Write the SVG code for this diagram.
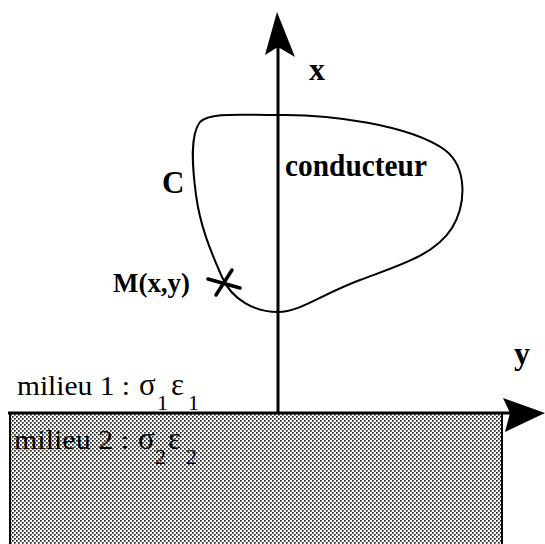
<svg xmlns="http://www.w3.org/2000/svg" width="545" height="544" viewBox="0 0 545 544">
<style>
.lbl{font-family:"Liberation Serif","Times New Roman",serif;font-weight:bold;fill:#000}
.reg{font-family:"Liberation Serif","Times New Roman",serif;fill:#000}
.ax{stroke:#000;stroke-width:3;fill:none}
</style>
<defs>
<pattern id="dots" width="4" height="4" patternUnits="userSpaceOnUse">
<rect width="4" height="4" fill="#fff"/>
<rect x="0" y="0" width="1.7" height="1.7" fill="#222"/>
<rect x="2" y="2" width="1.7" height="1.7" fill="#222"/>
</pattern>
</defs>
<g id="milieu2">
<rect x="10" y="413" width="492" height="135" fill="url(#dots)" stroke="#000" stroke-width="2"/>
<text class="reg" font-size="28" y="449"><tspan x="14" textLength="115" lengthAdjust="spacingAndGlyphs">milieu 2 :</tspan><tspan x="138" font-size="31">σ</tspan><tspan x="155" y="464" font-size="22">2</tspan><tspan x="168" y="449" font-size="31">ε</tspan><tspan x="186" y="464" font-size="22">2</tspan></text>
</g>
<g id="milieu1">
<text class="reg" font-size="28" y="395"><tspan x="17" textLength="113" lengthAdjust="spacingAndGlyphs">milieu 1 :</tspan><tspan x="139" font-size="31">σ</tspan><tspan x="157" y="410" font-size="22">1</tspan><tspan x="171" y="395" font-size="31">ε</tspan><tspan x="188" y="410" font-size="22">1</tspan></text>
</g>
<g id="conducteur">
<path d="M277,115 C330,114 410,125 445,150 C468,168 466,205 452,228 C435,255 400,265 360,280 C320,295 300,312 278,312 C255,312 232,300 222,277 C210,250 200,225 196,195 C192,165 190,135 200,122 C210,112 240,115 277,115 Z" fill="none" stroke="#000" stroke-width="2"/>
<text class="lbl" font-size="32" x="285" y="176" textLength="142" lengthAdjust="spacingAndGlyphs">conducteur</text>
<text class="lbl" font-size="31" x="162" y="193">C</text>
</g>
<g id="pointM">
<line x1="208" y1="279" x2="240" y2="288" stroke="#000" stroke-width="3.5" stroke-linecap="round"/>
<line x1="216" y1="295" x2="232" y2="270" stroke="#000" stroke-width="3.5" stroke-linecap="round"/>
<text class="lbl" font-size="28" x="113" y="292" textLength="77" lengthAdjust="spacingAndGlyphs">M(x,y)</text>
</g>
<g id="connectors">
<line class="ax" x1="278" y1="46" x2="278" y2="413"/>
<path d="M277,12 L295,57 L278,47 L265,55 Z" fill="#000"/>
<line class="ax" x1="8" y1="413" x2="512" y2="413"/>
<path d="M545,413 L503,398 L510,413 L505,432 Z" fill="#000"/>
<text class="lbl" font-size="32" x="309" y="80">x</text>
<text class="lbl" font-size="32" x="514" y="364">y</text>
</g>
</svg>
